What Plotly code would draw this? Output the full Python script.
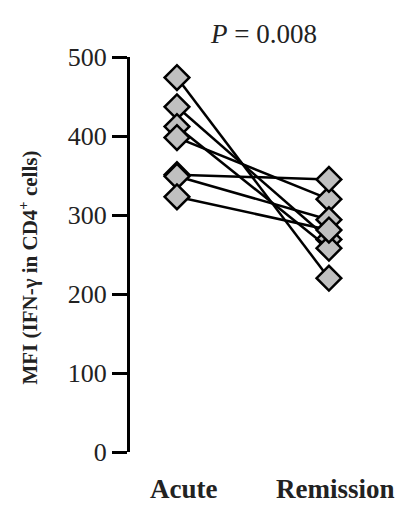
import plotly.graph_objects as go

categories = ["Acute", "Remission"]
acute = [474, 437, 412, 398, 351, 349, 323]
remission = [220, 269, 258, 320, 345, 294, 281]
p_label = "<i>P</i> = 0.008"
y_title = "MFI (IFN-γ in CD4<sup>+</sup> cells)"
y_ticks = [0, 100, 200, 300, 400, 500]

fig = go.Figure()
for a, r in zip(acute, remission):
    fig.add_trace(go.Scatter(
        x=[0, 1], y=[a, r], mode="lines+markers",
        line=dict(color="black", width=2.5),
        marker=dict(symbol="diamond", size=19, color="#c0c0c0",
                    line=dict(color="black", width=2.5)),
        showlegend=False, hoverinfo="skip"))

serif = "Liberation Serif, Times New Roman, serif"
fig.update_layout(
    width=400, height=514,
    margin=dict(l=130, r=20, t=57, b=62),
    plot_bgcolor="white", paper_bgcolor="white",
    font=dict(family=serif, color="#222"),
    xaxis=dict(range=[-0.309, 1.336], showline=False, showgrid=False,
               zeroline=False, showticklabels=False, ticks=""),
    yaxis=dict(range=[0, 500], tickvals=y_ticks, showline=True,
               linecolor="black", linewidth=3, ticks="outside",
               ticklen=15, tickwidth=3, tickcolor="black",
               showgrid=False, zeroline=False,
               tickfont=dict(size=26, family=serif, color="#222")),
)
fig.add_annotation(x=0, y=0.467, xref="paper", yref="paper",
                   xanchor="center", yanchor="middle", xshift=-101,
                   textangle=-90, text="<b>" + y_title + "</b>",
                   showarrow=False,
                   font=dict(size=21, family=serif, color="#222"))
for i, c in enumerate(categories):
    fig.add_annotation(x=i, y=0, xref="x", yref="paper", yanchor="top",
                       yshift=-20, xshift=7, text="<b>" + c + "</b>",
                       showarrow=False,
                       font=dict(size=27, family=serif, color="#222"))
fig.add_annotation(x=0.535, y=1, xref="paper", yref="paper", yanchor="bottom",
                   yshift=6, text=p_label, showarrow=False,
                   font=dict(size=27, family=serif, color="#222"))

fig.write_html("out.html")
